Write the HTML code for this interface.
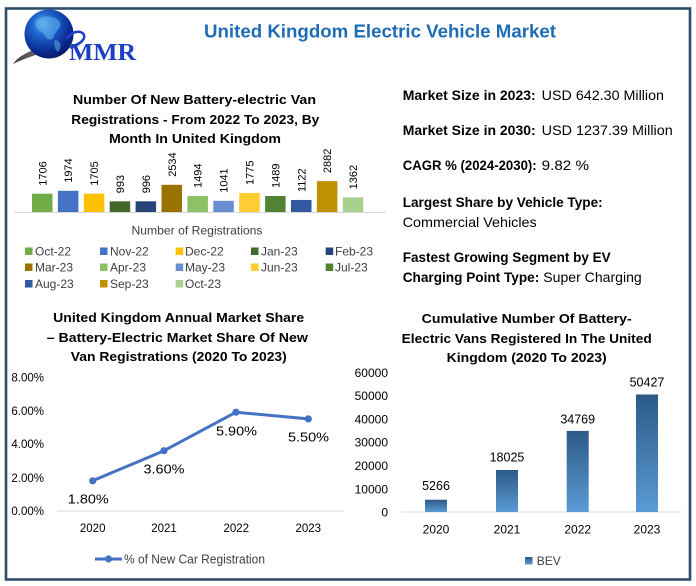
<!DOCTYPE html>
<html><head><meta charset="utf-8"><style>
html,body{margin:0;padding:0;background:#fff;}
svg{display:block;}
text{font-family:"Liberation Sans",sans-serif;fill:#000;}
.b{font-weight:bold;}
</style></head><body>
<svg width="696" height="586" viewBox="0 0 696 586" xmlns="http://www.w3.org/2000/svg">
<defs>
<radialGradient id="glb" cx="0.38" cy="0.3" r="0.75">
<stop offset="0" stop-color="#5fb6f0"/><stop offset="0.3" stop-color="#1f66d0"/><stop offset="0.75" stop-color="#0a2b92"/><stop offset="1" stop-color="#051760"/>
</radialGradient>
<linearGradient id="bev" x1="0" y1="0" x2="0" y2="1">
<stop offset="0" stop-color="#2c5a86"/><stop offset="1" stop-color="#5b9bd5"/>
</linearGradient>
<linearGradient id="sw" x1="0" y1="0" x2="1" y2="0">
<stop offset="0" stop-color="#444"/><stop offset="1" stop-color="#aaa"/>
</linearGradient>
</defs>
<rect x="0" y="0" width="696" height="586" fill="#fff"/>
<rect x="6" y="8.5" width="684" height="571" fill="none" stroke="#2f4d6b" stroke-width="2.6"/>

<!-- Logo -->
<path d="M13 64 C 24 48, 58 42, 82 46 C 60 47, 34 54, 13 64 Z" fill="url(#sw)"/>
<circle cx="49" cy="34" r="24.5" fill="url(#glb)"/>
<path d="M36 20 C 44 14, 56 16, 60 22 C 62 28, 56 30, 54 36 C 52 42, 46 40, 44 34 C 40 30, 34 28, 36 20 Z" fill="#5fb0ea" opacity="0.6"/>
<path d="M55 40 C 60 40, 63 46, 58 52 C 55 50, 53 44, 55 40 Z" fill="#5fb0ea" opacity="0.55"/>
<path d="M67 39 C 72 29, 86 30, 84 38 C 82 43, 76 45, 70 48" fill="none" stroke="#1c3fc4" stroke-width="2.5"/>
<text x="69" y="60" style="font-family:'Liberation Serif',serif;font-weight:bold;font-size:24px;fill:#1c3fc4" textLength="67" lengthAdjust="spacingAndGlyphs">MMR</text>

<!-- Main title -->
<text x="204" y="37.5" class="b" style="font-size:18px;fill:#1f6cb6" textLength="352" lengthAdjust="spacingAndGlyphs">United Kingdom Electric Vehicle Market</text>

<!-- Bar chart title -->
<g class="b" style="font-size:13px" text-anchor="middle">
<text x="194.5" y="104" class="b" textLength="243" lengthAdjust="spacingAndGlyphs">Number Of New Battery-electric Van</text>
<text x="195.3" y="124" class="b" textLength="248" lengthAdjust="spacingAndGlyphs">Registrations - From 2022 To 2023, By</text>
<text x="195" y="143" class="b" textLength="172" lengthAdjust="spacingAndGlyphs">Month In United Kingdom</text>
</g>

<!-- bars -->
<line x1="14" y1="212.5" x2="386" y2="212.5" stroke="#d9d9d9" stroke-width="1"/>
<g>
<rect x="32.0" y="193.7" width="20.5" height="18.3" fill="#70ad47"/>
<rect x="57.9" y="190.8" width="20.5" height="21.2" fill="#4472c4"/>
<rect x="83.8" y="193.7" width="20.5" height="18.3" fill="#ffc000"/>
<rect x="109.7" y="201.35" width="20.5" height="10.65" fill="#43682b"/>
<rect x="135.6" y="201.3" width="20.5" height="10.7" fill="#264478"/>
<rect x="161.5" y="184.8" width="20.5" height="27.2" fill="#997300"/>
<rect x="187.4" y="195.97" width="20.5" height="16.03" fill="#8cc168"/>
<rect x="213.3" y="200.83" width="20.5" height="11.17" fill="#698ed0"/>
<rect x="239.2" y="192.95" width="20.5" height="19.05" fill="#ffcd33"/>
<rect x="265.1" y="196.02" width="20.5" height="15.98" fill="#548235"/>
<rect x="291.0" y="199.96" width="20.5" height="12.04" fill="#335aa1"/>
<rect x="316.9" y="181.08" width="20.5" height="30.92" fill="#bf9000"/>
<rect x="342.8" y="197.39" width="20.5" height="14.61" fill="#a9d18e"/>
</g>
<g style="font-size:11px">
<text transform="translate(46.3,185.7) rotate(-90)">1706</text>
<text transform="translate(72.2,182.8) rotate(-90)">1974</text>
<text transform="translate(98.1,185.7) rotate(-90)">1705</text>
<text transform="translate(124.0,193.3) rotate(-90)">993</text>
<text transform="translate(149.9,193.3) rotate(-90)">996</text>
<text transform="translate(175.8,176.8) rotate(-90)">2534</text>
<text transform="translate(201.7,188.0) rotate(-90)">1494</text>
<text transform="translate(227.6,192.8) rotate(-90)">1041</text>
<text transform="translate(253.5,185.0) rotate(-90)">1775</text>
<text transform="translate(279.4,188.0) rotate(-90)">1489</text>
<text transform="translate(305.3,192.0) rotate(-90)">1122</text>
<text transform="translate(331.2,173.1) rotate(-90)">2882</text>
<text transform="translate(357.1,189.4) rotate(-90)">1362</text>
</g>
<text x="197" y="234.5" text-anchor="middle" style="font-size:12px;fill:#404040" textLength="131" lengthAdjust="spacingAndGlyphs">Number of Registrations</text>

<!-- legend -->
<g style="font-size:12px;fill:#404040">
<rect x="25" y="247.5" width="7.5" height="7.5" fill="#70ad47"/><text x="35" y="255.5" style="fill:#404040">Oct-22</text>
<rect x="100" y="247.5" width="7.5" height="7.5" fill="#4472c4"/><text x="110" y="255.5" style="fill:#404040">Nov-22</text>
<rect x="175.7" y="247.5" width="7.5" height="7.5" fill="#ffc000"/><text x="185" y="255.5" style="fill:#404040">Dec-22</text>
<rect x="251" y="247.5" width="7.5" height="7.5" fill="#43682b"/><text x="261" y="255.5" style="fill:#404040">Jan-23</text>
<rect x="325.7" y="247.5" width="7.5" height="7.5" fill="#264478"/><text x="335" y="255.5" style="fill:#404040">Feb-23</text>

<rect x="25" y="263.5" width="7.5" height="7.5" fill="#997300"/><text x="35" y="271.5" style="fill:#404040">Mar-23</text>
<rect x="100" y="263.5" width="7.5" height="7.5" fill="#8cc168"/><text x="110" y="271.5" style="fill:#404040">Apr-23</text>
<rect x="175.7" y="263.5" width="7.5" height="7.5" fill="#698ed0"/><text x="185" y="271.5" style="fill:#404040">May-23</text>
<rect x="251" y="263.5" width="7.5" height="7.5" fill="#ffcd33"/><text x="261" y="271.5" style="fill:#404040">Jun-23</text>
<rect x="325.7" y="263.5" width="7.5" height="7.5" fill="#548235"/><text x="335" y="271.5" style="fill:#404040">Jul-23</text>

<rect x="25" y="280" width="7.5" height="7.5" fill="#335aa1"/><text x="35" y="288" style="fill:#404040">Aug-23</text>
<rect x="100" y="280" width="7.5" height="7.5" fill="#bf9000"/><text x="110" y="288" style="fill:#404040">Sep-23</text>
<rect x="175.7" y="280" width="7.5" height="7.5" fill="#a9d18e"/><text x="185" y="288" style="fill:#404040">Oct-23</text>
</g>

<!-- Right text -->
<g style="font-size:14px">
<text x="402.7" y="100" class="b" textLength="133" lengthAdjust="spacingAndGlyphs">Market Size in 2023:</text>
<text x="541.7" y="100" textLength="122.3" lengthAdjust="spacingAndGlyphs">USD 642.30 Million</text>
<text x="402.7" y="135" class="b" textLength="133" lengthAdjust="spacingAndGlyphs">Market Size in 2030:</text>
<text x="541.7" y="135" textLength="131" lengthAdjust="spacingAndGlyphs">USD 1237.39 Million</text>
<text x="402.7" y="170" class="b" textLength="134" lengthAdjust="spacingAndGlyphs">CAGR % (2024-2030):</text>
<text x="541.7" y="170" textLength="47.3" lengthAdjust="spacingAndGlyphs">9.82 %</text>
<text x="402.7" y="207" class="b" textLength="200" lengthAdjust="spacingAndGlyphs">Largest Share by Vehicle Type:</text>
<text x="402.7" y="227" textLength="134" lengthAdjust="spacingAndGlyphs">Commercial Vehicles</text>
<text x="402.7" y="262" class="b" textLength="208" lengthAdjust="spacingAndGlyphs">Fastest Growing Segment by EV</text>
<text x="402.7" y="282" class="b" textLength="136.6" lengthAdjust="spacingAndGlyphs">Charging Point Type:</text>
<text x="543.3" y="282" textLength="98.4" lengthAdjust="spacingAndGlyphs">Super Charging</text>
</g>

<!-- Line chart -->
<g style="font-size:13px" text-anchor="middle">
<text x="178.7" y="322" class="b" textLength="251" lengthAdjust="spacingAndGlyphs">United Kingdom Annual Market Share</text>
<text x="177.3" y="342" class="b" textLength="261" lengthAdjust="spacingAndGlyphs">– Battery-Electric Market Share Of New</text>
<text x="178.8" y="361" class="b" textLength="216" lengthAdjust="spacingAndGlyphs">Van Registrations (2020 To 2023)</text>
</g>
<g style="font-size:11.5px" text-anchor="end">
<text x="44" y="381.7">8.00%</text>
<text x="44" y="415">6.00%</text>
<text x="44" y="448.2">4.00%</text>
<text x="44" y="482">2.00%</text>
<text x="44" y="515">0.00%</text>
</g>
<line x1="57" y1="511" x2="344" y2="511" stroke="#d9d9d9" stroke-width="1"/>
<g style="font-size:11.5px" text-anchor="middle">
<text x="92.7" y="532">2020</text>
<text x="164" y="532">2021</text>
<text x="236.3" y="532">2022</text>
<text x="308.3" y="532">2023</text>
</g>
<polyline points="92.7,480.8 164,450.7 236,412.2 308.3,418.9" fill="none" stroke="#4472c4" stroke-width="3" stroke-linejoin="round"/>
<g fill="#4472c4">
<circle cx="92.7" cy="480.8" r="3.6"/><circle cx="164" cy="450.7" r="3.6"/><circle cx="236" cy="412.2" r="3.6"/><circle cx="308.3" cy="418.9" r="3.6"/>
</g>
<g style="font-size:13px" text-anchor="middle">
<text x="88.3" y="503.5" textLength="41" lengthAdjust="spacingAndGlyphs">1.80%</text>
<text x="164" y="473.5" textLength="41" lengthAdjust="spacingAndGlyphs">3.60%</text>
<text x="236.5" y="435.5" textLength="41" lengthAdjust="spacingAndGlyphs">5.90%</text>
<text x="308.5" y="441.5" textLength="41" lengthAdjust="spacingAndGlyphs">5.50%</text>
</g>
<line x1="95" y1="559" x2="122" y2="559" stroke="#4472c4" stroke-width="3"/>
<circle cx="108.5" cy="559" r="3.6" fill="#4472c4"/>
<text x="124" y="563.5" style="font-size:12.5px;fill:#404040" textLength="141" lengthAdjust="spacingAndGlyphs">% of New Car Registration</text>

<!-- Right bar chart -->
<g style="font-size:13px" text-anchor="middle">
<text x="526.7" y="323" class="b" textLength="210" lengthAdjust="spacingAndGlyphs">Cumulative Number Of Battery-</text>
<text x="526.7" y="343" class="b" textLength="250" lengthAdjust="spacingAndGlyphs">Electric Vans Registered In The United</text>
<text x="526.7" y="362" class="b" textLength="160" lengthAdjust="spacingAndGlyphs">Kingdom (2020 To 2023)</text>
</g>
<g style="font-size:12px" text-anchor="end">
<text x="388" y="377">60000</text>
<text x="388" y="400.2">50000</text>
<text x="388" y="423.5">40000</text>
<text x="388" y="446.7">30000</text>
<text x="388" y="470">20000</text>
<text x="388" y="493.3">10000</text>
<text x="388" y="516.3">0</text>
</g>
<line x1="401.7" y1="512" x2="681.7" y2="512" stroke="#d9d9d9" stroke-width="1"/>
<rect x="425" y="499.7" width="22" height="12.3" fill="url(#bev)"/>
<rect x="496" y="470" width="22" height="42" fill="url(#bev)"/>
<rect x="566.7" y="430.9" width="22" height="81.1" fill="url(#bev)"/>
<rect x="636" y="394.5" width="22" height="117.5" fill="url(#bev)"/>
<g style="font-size:12.5px" text-anchor="middle">
<text x="436" y="490.2">5266</text>
<text x="507" y="461.7">18025</text>
<text x="577.7" y="423.4">34769</text>
<text x="647" y="386.7">50427</text>
</g>
<g style="font-size:12px" text-anchor="middle">
<text x="436" y="533.5">2020</text>
<text x="507" y="533.5">2021</text>
<text x="577.7" y="533.5">2022</text>
<text x="647" y="533.5">2023</text>
</g>
<rect x="525" y="557" width="7.5" height="7.5" fill="url(#bev)"/>
<text x="536.7" y="565" style="font-size:12px;fill:#404040">BEV</text>
</svg>
</body></html>
